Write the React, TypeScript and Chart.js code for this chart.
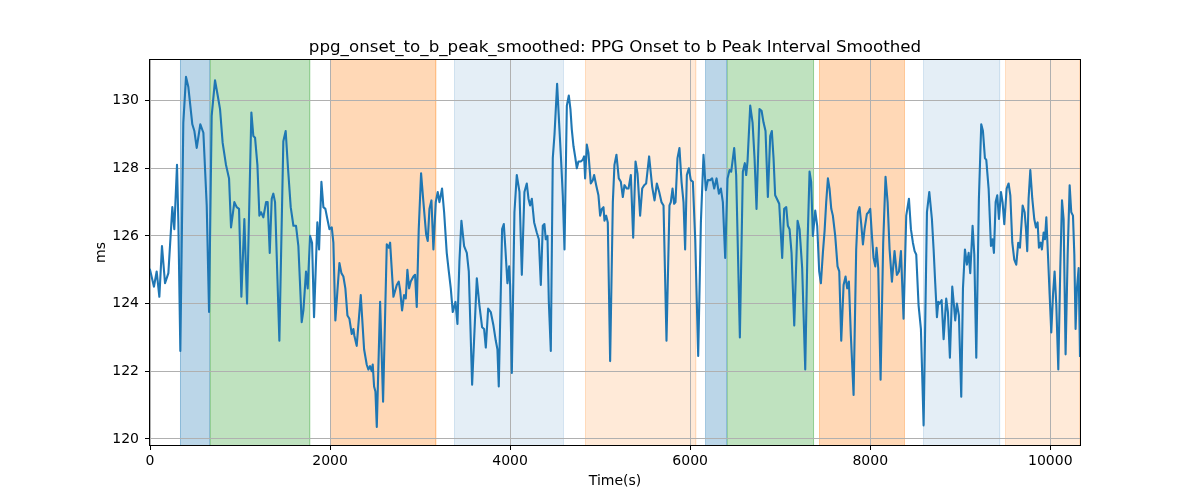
import { useEffect, useRef } from "react";
import { Chart, registerables } from "chart.js";

Chart.register(...registerables);

const titleText = "ppg_onset_to_b_peak_smoothed: PPG Onset to b Peak Interval Smoothed";
const xLabel = "Time(s)";
const yLabel = "ms";

const times = [
  0, 44, 74, 104, 133, 167, 204, 248, 270, 300, 315, 337, 370, 400, 426, 470, 493, 519, 559, 593,
  630, 656, 685, 722, 752, 778, 807, 844, 878, 900, 937, 963, 989, 1015, 1048, 1078, 1126, 1148, 1167, 1193,
  1215, 1233, 1259, 1289, 1307, 1330, 1352, 1370, 1389, 1437, 1481, 1507, 1533, 1563, 1593, 1622, 1648, 1685, 1704, 1733,
  1752, 1778,
  1800, 1822, 1859, 1878, 1904, 1926, 1948, 1970, 1993, 2019, 2037, 2059, 2081, 2104, 2126, 2148, 2170, 2193, 2215, 2241,
  2259, 2270, 2296, 2341, 2378, 2407, 2426, 2444, 2463, 2474, 2489, 2504, 2519, 2556, 2589, 2630, 2652, 2667, 2704, 2741,
  2763, 2778, 2800, 2822, 2841, 2859, 2878, 2896, 2926, 2944, 2963, 2985, 3011, 3037, 3067, 3085, 3104, 3126, 3148, 3174,
  3196, 3215, 3244, 3267, 3296, 3319, 3341, 3363, 3393, 3415, 3437, 3459,
  3489, 3519, 3541, 3578, 3630, 3659, 3689, 3711, 3730, 3756, 3785, 3815, 3841, 3859, 3874, 3911, 3930, 3948, 3970, 3989,
  4000, 4019, 4048, 4074, 4104, 4130, 4159, 4185, 4204, 4222, 4241, 4267, 4296, 4319, 4341, 4363, 4381, 4396, 4415, 4430,
  4452, 4474, 4493, 4522, 4544, 4567, 4585, 4604, 4630, 4652, 4670, 4685, 4704, 4722, 4741, 4759, 4785, 4807, 4822, 4833,
  4852, 4870, 4896, 4919, 4933, 4956, 4981, 5000, 5019, 5037, 5048, 5067, 5085, 5111, 5141, 5159, 5181, 5207, 5230, 5252,
  5270, 5296, 5315,
  5341, 5367, 5393, 5415, 5444, 5467, 5489, 5511, 5544, 5578, 5604, 5630, 5656, 5681, 5704, 5737, 5770, 5785, 5804, 5822,
  5837, 5859, 5881, 5904, 5926, 5944, 5963, 5985, 6007, 6030, 6056, 6089, 6119, 6148, 6174, 6196, 6222, 6244, 6267, 6293,
  6319, 6341, 6363, 6389, 6415, 6437, 6456, 6489, 6511, 6552, 6585, 6607, 6622, 6637, 6667, 6693, 6715, 6737, 6770, 6793,
  6815, 6837, 6863, 6889, 6907, 6926, 6944, 6963, 6989,
  7022, 7044, 7067, 7085, 7104, 7126, 7156, 7193, 7215, 7244, 7278, 7304, 7326, 7344, 7363, 7389, 7411, 7433, 7452, 7474,
  7493, 7511, 7530, 7548, 7567, 7585, 7611, 7637, 7656, 7678, 7704, 7726, 7744, 7763, 7785, 7815, 7844, 7863, 7881, 7900,
  7919, 7937, 7963, 7981, 8000, 8019, 8037, 8056, 8070, 8089, 8115, 8144, 8170, 8193, 8215, 8241, 8270, 8296, 8319, 8341,
  8370, 8400, 8430, 8452, 8474, 8493, 8511, 8537, 8563, 8593, 8630, 8656,
  8685, 8704, 8722, 8741, 8756, 8770, 8793, 8815, 8844, 8863, 8885, 8911, 8930, 8944, 8963, 8985, 9011, 9030, 9052, 9074,
  9093, 9111, 9137, 9156, 9178, 9207, 9233, 9252, 9274, 9289, 9315, 9341, 9359, 9374, 9393, 9411, 9430, 9452, 9470, 9489,
  9515, 9537, 9556, 9578, 9600, 9622, 9644, 9663, 9693, 9715, 9730, 9744, 9759, 9778, 9800, 9822, 9841, 9859, 9874, 9893,
  9907, 9926, 9941, 9956, 9974, 9993, 10011, 10030, 10048, 10067, 10089, 10111, 10130, 10148, 10170, 10193, 10215, 10233, 10252, 10267,
  10281, 10296, 10315, 10330,
];

const values = [
  125.0, 124.5, 124.95, 124.2, 125.7, 124.6, 124.9, 126.85, 126.2, 128.1, 126.4, 122.6, 129.35, 130.7, 130.4, 129.3, 129.1, 128.6, 129.3, 129.05,
  126.9, 123.75, 129.55, 130.6, 130.15, 129.75, 128.75, 128.1, 127.7, 126.25, 127.0, 126.85, 126.8, 124.2, 126.5, 124.0, 129.65, 128.95, 128.9, 128.1,
  126.6, 126.7, 126.55, 127.0, 127.0, 125.5, 127.1, 127.25, 127.0, 122.9, 128.8, 129.1, 128.0, 126.85, 126.3, 126.3, 125.7, 123.45, 123.8, 124.95,
  124.45, 126.0,
  125.8, 123.6, 126.4, 125.6, 127.6, 126.85, 126.8, 126.5, 126.2, 126.25, 125.8, 123.5, 124.35, 125.2, 124.9, 124.8, 124.45, 123.65, 123.55, 123.1,
  123.25, 123.05, 122.75, 124.25, 122.65, 122.2, 122.05, 122.15, 122.0, 122.2, 121.55, 121.4, 120.35, 124.05, 121.1, 125.75, 125.65, 125.8, 124.2, 124.55,
  124.65, 124.4, 123.8, 124.25, 124.15, 125.0, 124.45, 124.65, 124.8, 124.85, 123.9, 126.2, 127.85, 127.0, 126.05, 125.85, 126.8, 127.05, 125.6, 127.0,
  127.3, 127.0, 127.4, 126.7, 125.5, 124.95, 124.45, 123.75, 124.05, 123.4, 125.25, 126.45,
  125.7, 125.5, 124.95, 121.6, 124.75, 123.95, 123.3, 123.25, 122.7, 123.85, 123.75, 123.35, 122.9, 122.65, 121.55, 126.2, 126.35, 125.6, 124.6, 125.1,
  124.55, 121.95, 126.7, 127.8, 127.3, 124.85, 127.3, 127.55, 127.1, 126.9, 127.1, 126.4, 126.1, 125.9, 124.55, 126.3, 126.35, 125.9, 126.0, 124.05,
  122.6, 128.3, 129.0, 130.5, 129.35, 128.2, 127.2, 125.6, 129.85, 130.15, 129.75, 129.15, 128.65, 128.35, 128.0, 128.2, 128.2, 128.25, 128.35, 127.7,
  128.7, 128.45, 127.55, 127.65, 127.8, 127.5, 127.2, 126.6, 126.8, 126.85, 126.45, 126.6, 126.4, 122.3, 127.0, 128.1, 128.4, 127.7, 127.6, 127.15,
  127.5, 127.4, 127.4,
  127.8, 125.95, 128.2, 127.85, 126.6, 127.4, 127.5, 127.55, 128.35, 127.45, 127.05, 127.55, 127.3, 127.0, 126.9, 122.9, 126.9, 127.0, 127.4, 126.95,
  127.0, 128.3, 128.6, 127.6, 127.0, 125.6, 127.8, 128.0, 127.65, 127.6, 125.9, 122.45, 126.4, 128.4, 127.35, 127.65, 127.65, 127.7, 127.4, 127.7,
  127.25, 127.4, 127.0, 125.35, 127.7, 127.95, 127.9, 128.6, 127.8, 123.0, 127.9, 128.15, 127.8, 128.2, 129.85, 129.35, 128.3, 126.8, 129.75, 129.7,
  129.35, 129.1, 127.15, 128.95, 129.1, 128.3, 127.2, 127.1, 126.95,
  125.35, 126.8, 126.85, 126.3, 126.2, 125.5, 123.35, 126.45, 126.2, 125.05, 122.05, 125.8, 127.9, 127.6, 126.0, 126.75, 126.3, 124.95, 124.6, 125.5,
  126.15, 127.0, 127.7, 127.4, 126.8, 126.6, 126.0, 125.1, 124.95, 122.9, 124.55, 124.8, 124.45, 124.65, 123.05, 121.3, 125.6, 126.7, 126.85, 126.35,
  125.75, 126.2, 126.65, 126.7, 126.8, 126.0, 125.35, 125.1, 125.65, 125.05, 121.75, 125.8, 127.75, 127.0, 125.6, 124.65, 125.55, 124.85, 124.95, 125.55,
  123.55, 126.6, 127.1, 126.2, 125.8, 125.55, 125.45, 123.95, 123.25, 120.4, 126.7, 127.3,
  126.5, 125.6, 124.6, 123.6, 124.05, 124.0, 124.1, 122.95, 124.15, 123.75, 122.4, 124.5, 123.95, 123.5, 124.0, 123.65, 121.25, 124.45, 125.6, 125.15,
  125.5, 124.9, 126.3, 125.45, 122.4, 127.1, 129.3, 129.1, 128.3, 128.25, 127.4, 125.7, 125.9, 125.5, 127.0, 127.2, 126.5, 127.3, 127.0, 126.35,
  127.4, 127.55, 127.2, 125.8, 125.3, 125.15, 125.8, 125.65, 126.9, 126.7, 126.2, 125.55, 127.1, 127.95, 127.1, 126.5, 126.25, 126.4, 125.65, 125.8,
  125.6, 126.1, 125.9, 126.55, 125.45, 124.25, 123.15, 124.25, 124.95, 123.95, 122.05, 125.05, 127.05, 126.5, 122.5, 125.45, 127.5, 126.7, 126.6, 125.45,
  123.25, 124.45, 125.05, 122.45,
];

const xTicks = [0, 2000, 4000, 6000, 8000, 10000];
const yTicks = [120, 122, 124, 126, 128, 130];
const xMin = 0;
const xMax = 10330;
const yMin = 119.82;
const yMax = 131.2;

const spanStarts = [333, 665, 2000, 3378, 4833, 6170, 6413, 7433, 8589, 9500];
const spanEnds = [665, 1782, 3182, 4595, 6070, 6413, 7376, 8382, 9444, 10330];
const spanKinds = ["blue", "green", "orange", "lightBlue", "lightOrange", "blue", "green", "orange", "lightBlue", "lightOrange"];

const spanColors: Record<string, string> = {
  blue: "rgba(31,119,180,0.3)",
  green: "rgba(44,160,44,0.3)",
  orange: "rgba(255,127,14,0.3)",
  lightBlue: "rgba(31,119,180,0.12)",
  lightOrange: "rgba(255,127,14,0.16)",
};

const spansPlugin = {
  id: "spans",
  beforeDraw(chart: any) {
    const { ctx, chartArea, scales } = chart;
    const xs = scales.x;
    ctx.save();
    ctx.beginPath();
    ctx.rect(chartArea.left, chartArea.top, chartArea.right - chartArea.left, chartArea.bottom - chartArea.top);
    ctx.clip();
    spanStarts.forEach((s, i) => {
      const x0 = xs.getPixelForValue(s);
      const x1 = xs.getPixelForValue(spanEnds[i]);
      const c = spanColors[spanKinds[i]];
      ctx.fillStyle = c;
      ctx.fillRect(x0, chartArea.top, x1 - x0, chartArea.bottom - chartArea.top);
      ctx.strokeStyle = c;
      ctx.lineWidth = 1;
      ctx.beginPath();
      ctx.moveTo(Math.round(x0) + 0.5, chartArea.top);
      ctx.lineTo(Math.round(x0) + 0.5, chartArea.bottom);
      ctx.moveTo(Math.round(x1) - 0.5, chartArea.top);
      ctx.lineTo(Math.round(x1) - 0.5, chartArea.bottom);
      ctx.stroke();
    });
    ctx.restore();
  },
};

const framePlugin = {
  id: "frame",
  afterDatasetsDraw(chart: any) {
    const { ctx, chartArea } = chart;
    ctx.save();
    ctx.strokeStyle = "#000";
    ctx.lineWidth = 1;
    ctx.strokeRect(
      Math.round(chartArea.left) - 0.5,
      Math.round(chartArea.top) - 0.5,
      Math.round(chartArea.right - chartArea.left) + 1,
      Math.round(chartArea.bottom - chartArea.top) + 1
    );
    // axes title, centred over the plot area as matplotlib does
    ctx.fillStyle = "#000";
    ctx.font = "16.7px 'DejaVu Sans', sans-serif";
    ctx.textAlign = "center";
    ctx.textBaseline = "alphabetic";
    ctx.fillText(titleText, (chartArea.left + chartArea.right) / 2, chartArea.top - 8.5);
    ctx.restore();
  },
};

export default function App() {
  const ref = useRef<HTMLCanvasElement | null>(null);

  useEffect(() => {
    if (!ref.current) return;
    Chart.defaults.font.family = "'DejaVu Sans', sans-serif";
    Chart.defaults.color = "#000";
    const chart = new Chart(ref.current, {
      type: "line",
      data: {
        datasets: [
          {
            data: times.map((t, i) => ({ x: t, y: values[i] })),
            borderColor: "#1f77b4",
            borderWidth: 2.1,
            borderJoinStyle: "round",
            borderCapStyle: "square",
            pointRadius: 0,
            fill: false,
            tension: 0,
          },
        ],
      },
      options: {
        responsive: false,
        animation: false,
        events: [],
        layout: { padding: { left: 0, right: 120, top: 60, bottom: 0 } },
        plugins: {
          legend: { display: false },
          tooltip: { enabled: false },
          title: { display: false },
        },
        scales: {
          x: {
            type: "linear",
            min: xMin,
            max: xMax,
            afterBuildTicks: (scale: any) => {
              scale.ticks = xTicks.map((v) => ({ value: v }));
            },
            afterFit: (scale: any) => {
              scale.height = 55;
            },
            ticks: {
              color: "#000",
              font: { size: 14 },
              padding: 3,
              maxRotation: 0,
              autoSkip: false,
              callback: (v: any) => String(v),
            },
            grid: {
              color: "#b0b0b0",
              lineWidth: 1,
              tickColor: "#000",
              tickLength: 5,
              drawTicks: true,
            },
            border: { display: false },
            title: {
              display: true,
              text: xLabel,
              color: "#000",
              font: { size: 14 },
              padding: { top: 0, bottom: 10.4 },
            },
          },
          y: {
            type: "linear",
            min: yMin,
            max: yMax,
            afterBuildTicks: (scale: any) => {
              scale.ticks = yTicks.map((v) => ({ value: v }));
            },
            afterFit: (scale: any) => {
              scale.width = 150;
            },
            ticks: {
              color: "#000",
              font: { size: 14 },
              padding: 6,
              autoSkip: false,
              callback: (v: any) => String(v),
            },
            grid: {
              color: "#b0b0b0",
              lineWidth: 1,
              tickColor: "#000",
              tickLength: 5,
              drawTicks: true,
            },
            border: { display: false },
            title: {
              display: true,
              text: yLabel,
              color: "#000",
              font: { size: 14 },
              padding: { top: 92.5, bottom: 0 },
            },
          },
        },
      },
      plugins: [spansPlugin, framePlugin],
    });
    return () => chart.destroy();
  }, []);

  return (
    <div style={{ position: "absolute", left: 0, top: 0, width: 1200, height: 500, background: "#fff" }}>
      <canvas ref={ref} width={1200} height={500} style={{ display: "block", width: 1200, height: 500 }} />
    </div>
  );
}
